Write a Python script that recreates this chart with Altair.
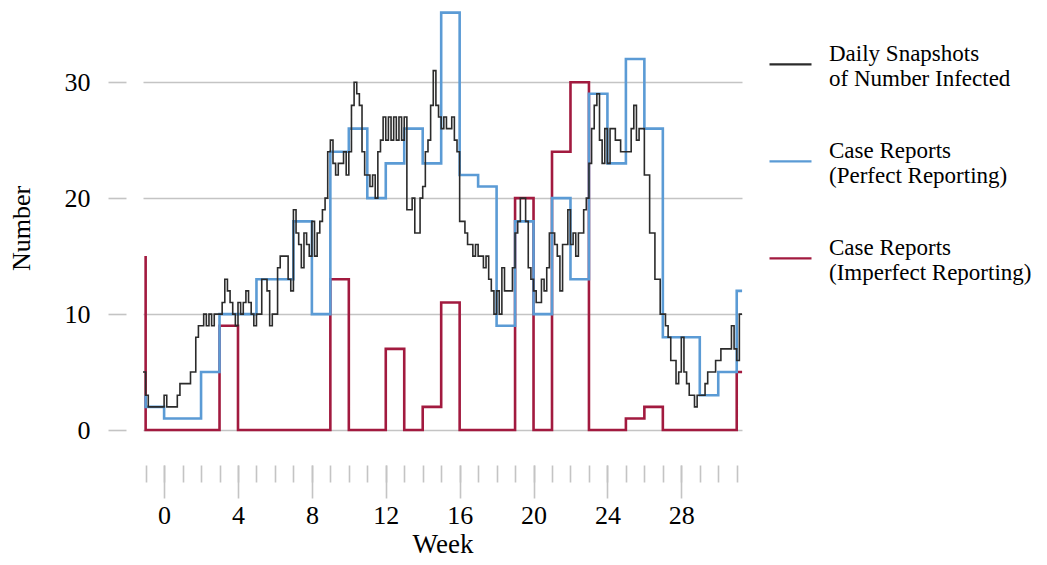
import altair as alt
import pandas as pd

# ---- data ----
series_names = [
    "Daily Snapshots|of Number Infected",
    "Case Reports|(Perfect Reporting)",
    "Case Reports|(Imperfect Reporting)",
]
series_colors = ["#2b2b2b", "#5b9bd5", "#a21a3f"]

# daily snapshots: day -8 .. 218 (value held until next day)
snapshot_start_day = -8
snapshot_values = [
    5, 3, 2, 2, 2, 2, 2, 2,
    3, 2, 2, 2, 2, 3, 4, 4, 4, 4,
    5, 5, 8, 9, 9, 10, 9, 10, 9, 10,
    10, 10, 11, 13, 12, 11, 10, 9, 11, 10,
    11, 12, 11, 10, 9, 10, 10, 13, 13, 12,
    9, 10, 10, 14, 15, 15, 15, 13, 12, 19,
    17, 16, 14, 17, 16, 15, 18, 15, 17, 18,
    19, 20, 24, 25, 23, 22, 23, 23, 24, 22,
    24, 28, 30, 29, 28, 24, 22, 22, 21, 22,
    20, 24, 25, 27, 25, 27, 25, 27, 25, 27,
    25, 27, 19, 19, 20, 17, 17, 20, 21, 24,
    25, 28, 31, 28, 27, 26, 27, 26, 26, 27,
    25, 24, 18, 18, 17, 16, 16, 15, 16, 15,
    15, 14, 15, 13, 12, 10, 12, 10, 14, 12,
    12, 12, 14, 17, 18, 20, 20, 18, 14, 13,
    12, 11, 11, 13, 12, 14, 17, 17, 16, 15,
    12, 16, 16, 19, 16, 17, 15, 17, 17, 19,
    20, 23, 26, 28, 29, 25, 23, 26, 23, 26,
    26, 25, 25, 24, 24, 24, 24, 26, 28, 25,
    26, 26, 22, 22, 17, 17, 13, 13, 10, 10,
    9, 8, 6, 6, 4, 5, 8, 5, 4, 3,
    3, 2, 3, 3, 3, 4, 5, 5, 5, 6,
    6, 7, 7, 7, 7, 9, 7, 6, 10,
]

# weekly case reports (value of the week ending at each point)
report_weeks = list(range(-1, 32)) + [31.29]
perfect_reports = [3, 2, 1, 1, 5, 10, 10, 13, 13, 18, 10, 24, 26, 20, 23, 26, 23,
                   36, 22, 21, 9, 18, 10, 20, 13, 29, 23, 32, 26, 8, 8, 3, 5, 12]
imperfect_reports = [15, 0, 0, 0, 0, 9, 0, 0, 0, 0, 0, 13, 0, 0, 7, 0, 2, 11, 0,
                     0, 0, 20, 0, 24, 30, 0, 0, 1, 2, 0, 0, 0, 0, 5]

minor_ticks = list(range(-1, 32))
major_ticks = [0, 4, 8, 12, 16, 20, 24, 28]
y_ticks = [0, 10, 20, 30]

# ---- tables ----
days = list(range(snapshot_start_day, snapshot_start_day + len(snapshot_values) + 1))
snap_df = pd.DataFrame({
    "week": [d / 7 for d in days],
    "value": snapshot_values + [snapshot_values[-1]],
    "series": series_names[0],
})
perf_df = pd.DataFrame({"week": report_weeks, "value": perfect_reports, "series": series_names[1]})
imp_df = pd.DataFrame({"week": report_weeks, "value": imperfect_reports, "series": series_names[2]})

FONT = "Liberation Serif"
GRAY = "#c4c4c4"

x_scale = alt.Scale(domain=[-8 / 7, 219 / 7], nice=False, zero=False)
y_scale = alt.Scale(domain=[-1.55, 36.4], nice=False, zero=False)

minor_axis = alt.Axis(
    orient="bottom",
    title=None,
    values=minor_ticks,
    labels=False,
    grid=False,
    domain=False,
    offset=17,
    tickColor=GRAY,
    tickWidth=1.6,
    tickSize=17,
)
major_axis = alt.Axis(
    orient="bottom",
    title="Week",
    values=major_ticks,
    grid=False,
    domain=False,
    offset=17,
    tickColor=GRAY,
    tickWidth=1.6,
    tickSize=33,
    labelPadding=4,
    labelFont=FONT,
    labelFontSize=26,
    labelColor="#000",
    titleFont=FONT,
    titleFontSize=27,
    titleFontWeight="normal",
    titleColor="#000",
    titlePadding=3,
)

y_enc = alt.Y(
    "value:Q",
    scale=y_scale,
    axis=alt.Axis(
        title="Number",
        values=y_ticks,
        grid=True,
        gridColor=GRAY,
        gridWidth=1.6,
        domain=False,
        offset=17,
        tickColor=GRAY,
        tickWidth=1.6,
        tickSize=18,
        labelPadding=18,
        labelFont=FONT,
        labelFontSize=26,
        labelColor="#000",
        titleFont=FONT,
        titleFontSize=26,
        titleFontWeight="normal",
        titleColor="#000",
        titlePadding=30,
    ),
)
color_enc = alt.Color(
    "series:N",
    scale=alt.Scale(domain=series_names, range=series_colors),
    legend=alt.Legend(
        title=None,
        orient="none",
        legendX=625,
        legendY=23,
        labelExpr="split(datum.label, '|')",
        labelFont=FONT,
        labelFontSize=23,
        labelColor="#000",
        labelLimit=400,
        labelOffset=16,
        symbolType="M-1,0.52H1",
        symbolSize=1764,
        symbolStrokeWidth=2.4,
        rowPadding=37,
    ),
)

red = alt.Chart(imp_df).mark_line(interpolate="step-before", strokeWidth=2.6).encode(
    x=alt.X("week:Q", scale=x_scale, axis=minor_axis), y=y_enc, color=color_enc)
blue = alt.Chart(perf_df).mark_line(interpolate="step-before", strokeWidth=2.6).encode(
    x=alt.X("week:Q", scale=x_scale, axis=major_axis), y=y_enc, color=color_enc)
black = alt.Chart(snap_df).mark_line(interpolate="step-after", strokeWidth=1.6).encode(
    x=alt.X("week:Q", scale=x_scale, axis=None), y=y_enc, color=color_enc)

chart = (
    alt.layer(red, blue, black)
    .resolve_axis(x="independent")
    .properties(
        width=599,
        height=440,
        autosize=alt.AutoSizeParams(type="none"),
        padding={"left": 135, "top": 0, "right": 297, "bottom": 109},
    )
    .configure_view(stroke=None)
)

chart.save("out.html", embed_options={"renderer": "svg", "actions": False})
